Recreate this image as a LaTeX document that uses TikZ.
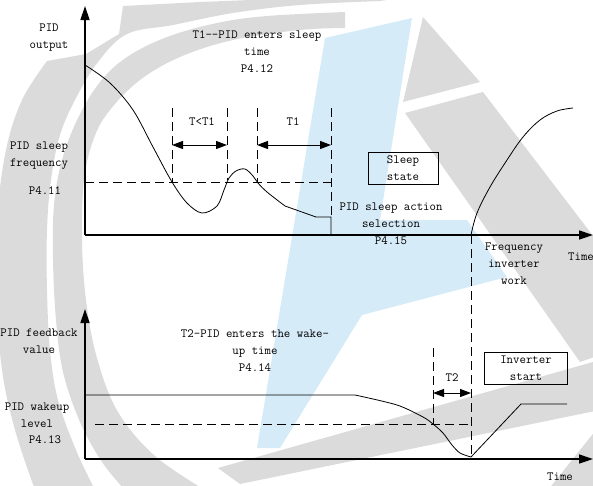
\documentclass[tikz,border=0pt]{standalone}
\usepackage{fontspec}
\usetikzlibrary{arrows.meta}
\definecolor{wmgray}{RGB}{219,219,219}
\definecolor{wmblue}{RGB}{214,235,248}
\tikzset{
  lbl/.style={inner sep=0pt, align=center, font=\ttfamily\fontsize{12.5}{17}\selectfont},
  boxlbl/.style={draw, line width=0.8pt, inner sep=0pt, align=center, font=\ttfamily\fontsize{12.5}{17}\selectfont},
  axis/.style={line width=1.4pt, -{Triangle[length=14pt,width=9pt]}},
  curve/.style={line width=0.8pt},
  dash line/.style={line width=0.8pt, dash pattern=on 9pt off 5pt},
  dimarrow/.style={line width=1pt, {Triangle[length=11pt,width=8pt]}-{Triangle[length=11pt,width=8pt]}},
}
\begin{document}
\begin{tikzpicture}[x=1pt,y=-1pt]
\useasboundingbox (0,0) rectangle (593,485);
% ---------- watermark ----------
\begin{scope}
\clip (0,0) rectangle (593,485);
% outer ring (with the top band and a tooth)
\fill[wmgray] (420,-5) -- (300,-2) -- (200,2) -- (123,6) -- (119,34) -- (86,54) -- (47,61)
  -- plot[smooth,tension=0.6] coordinates {(47,61) (22,100) (6,150) (-3,220) (-3,300) (2,370) (15,430) (35,490)}
  -- (95,490) -- plot[smooth,tension=0.6] coordinates {(95,490) (76,450) (58,400) (50,350) (47,290) (47,230) (51,180) (60,135) (76,98) (98,62) (127,34) (173,25) (233,13) (300,5) (380,1)} -- cycle;
% inner ring
\fill[wmgray] plot[smooth,tension=0.6] coordinates {(345,12) (267,16) (217,23) (167,37) (127,57) (100,82) (78,118) (62,160) (54,205) (53,260) (56,320) (63,372) (80,422) (102,462) (125,490)}
  -- (205,490) -- plot[smooth,tension=0.6] coordinates {(205,490) (155,456) (118,412) (97,358) (86,300) (82,240) (84,180) (94,138) (110,110) (140,80) (180,57) (233,40) (300,30) (345,28)} -- cycle;
% right shapes
\fill[wmgray] (423,17) -- (480,82) -- (403,102) -- cycle;
\fill[wmgray] (405,113) -- (483,92) -- (600,245) -- (600,355) -- (580,362) -- cycle;
\fill[wmgray] (218,468) -- (600,360) -- (600,410) -- (240,484) -- cycle;
\fill[wmgray] (600,425) -- (548,490) -- (600,490) -- cycle;
% blue
\fill[wmblue] (325,38) -- (412,18) -- (380,220) -- (467,220) -- (507,277) -- (362,315) -- (280,448) -- (257,448) -- cycle;
\end{scope}
% ---------- top chart ----------
\coordinate (o1) at (85,235);
\coordinate (y1) at (85,6);
\coordinate (x1) at (593,235);
\draw[axis] (o1) -- (y1);
\draw[axis] (o1) -- (x1);
\coordinate (sa) at (331,217);
\coordinate (sb) at (331,235);
\coordinate (wk) at (471,235);
\draw[curve] plot[smooth,tension=0.55] coordinates {(85,65) (110,83) (133,110) (153,147) (172,182) (187,203) (202,213) (217,206) (224,190) (229,178) (236,171) (245,169) (253,176) (258,183) (267,192) (285,206)} -- (316,217) -- (sa) -- (sb);
\draw[line width=1.8pt] (sb) -- (wk);
\draw[curve] plot[smooth,tension=0.6] coordinates {(471,235) (477,213) (490,187) (507,160) (523,137) (540,120) (557,111) (573,108)};
\coordinate (hd1) at (85,182);
\coordinate (hd2) at (331,182);
\draw[dash line] (hd1) -- (hd2);
\coordinate (va1) at (172,108); \coordinate (va2) at (172,182);
\coordinate (vb1) at (227,108); \coordinate (vb2) at (227,180);
\coordinate (vc1) at (257,108); \coordinate (vc2) at (257,182);
\coordinate (vd1) at (331,108);
\draw[dash line] (va1) -- (va2);
\draw[dash line] (vb1) -- (vb2);
\draw[dash line] (vc1) -- (vc2);
\draw[dash line] (vd1) -- (sa);
\coordinate (aa) at (172,145); \coordinate (ab) at (227,145);
\coordinate (ac) at (257,145); \coordinate (ad) at (331,145);
\draw[dimarrow] (aa) -- (ab);
\draw[dimarrow] (ac) -- (ad);
\node[lbl] (pidout) at (49,38) {PID\\output};
\node[lbl] (t1txt) at (257,52) {T1——PID enters sleep\\time\\P4.12};
\node[lbl] (tlt) at (202,122) {T<T1};
\node[lbl] (t1) at (293,122) {T1};
\node[lbl] (sleepf) at (39,156) {PID sleep\\frequency};
\node[lbl] (p411) at (45,191) {P4.11};
\node[boxlbl, minimum width=70pt, minimum height=32pt] (sleepst) at (403,168) {Sleep\\state};
\node[lbl] (action) at (391,224) {PID sleep action\\selection\\P4.15};
\node[lbl] (freq) at (514,264) {Frequency\\inverter\\work};
\node[lbl] (time1) at (581,257) {Time};
% ---------- bottom chart ----------
\coordinate (o2) at (85,459);
\coordinate (y2) at (85,309);
\coordinate (x2) at (593,459);
\draw[axis] (o2) -- (y2);
\draw[axis] (o2) -- (x2);
\coordinate (mn) at (471,457);
\draw[curve] (85,395) -- (355,395) -- plot[smooth,tension=0.5] coordinates {(355,395) (397,405) (423,417) (433,424) (443,433) (452,445) (460,453) (471,457)} -- (521,404) -- (567,404);
\coordinate (hw1) at (95,424);
\coordinate (hw2) at (471,424);
\draw[dash line] (hw1) -- (hw2);
\coordinate (ve1) at (433,348); \coordinate (ve2) at (433,424);
\draw[dash line] (ve1) -- (ve2);
\draw[dash line] (wk) -- (mn);
\coordinate (ta) at (433,393); \coordinate (tb) at (471,393);
\draw[dimarrow] (ta) -- (tb);
\node[lbl] (fb) at (39,341) {PID feedback\\value};
\node[lbl] (t2txt) at (255,351) {T2-PID enters the wake-\\up time\\P4.14};
\node[lbl] (t2) at (452,378) {T2};
\node[boxlbl, minimum width=83pt, minimum height=32pt] (invst) at (526,368) {Inverter\\start};
\node[lbl] (wake) at (37,415) {PID wakeup\\level};
\node[lbl] (p413) at (45,440) {P4.13};
\node[lbl] (time2) at (560,477) {Time};
\end{tikzpicture}
\end{document}
